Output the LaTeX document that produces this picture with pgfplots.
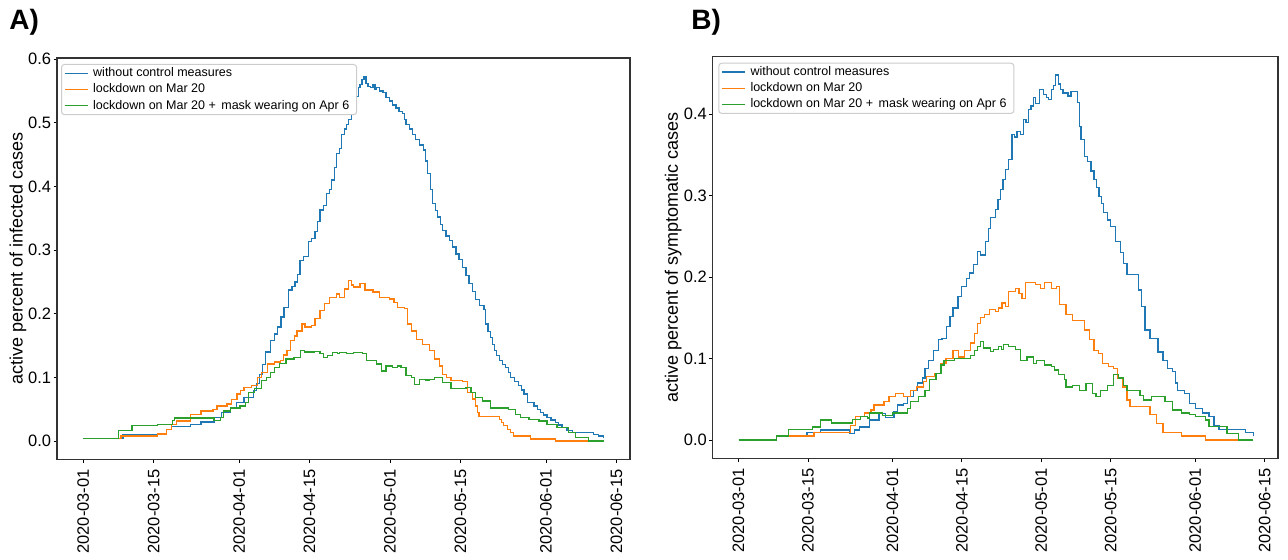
\documentclass[border=0pt]{standalone}
\usepackage{fontspec}
\setmainfont{Liberation Sans}
\usepackage{pgfplots}
\usepackage{pgfplotstable}
\pgfplotsset{compat=1.18}

\definecolor{tabblue}{HTML}{1F77B4}
\definecolor{taborange}{HTML}{FF7F0E}
\definecolor{tabgreen}{HTML}{2CA02C}

% day since 2020-03-01, active fraction (percent)
\pgfplotstableread{
d v
0 0.004
7.9 0.0105
16.5 0.018
17.5 0.0226
21.4 0.026
23.4 0.03
26.0 0.037
27.5 0.045
29.3 0.052
30.5 0.06
32.0 0.068
33.9 0.079
34.5 0.09
35.0 0.105
35.6 0.12
36.3 0.14
37.2 0.158
38.0 0.168
38.6 0.179
39.3 0.195
39.9 0.21
40.8 0.237
41.5 0.243
42.1 0.25
42.6 0.262
43.1 0.284
43.8 0.29
44.8 0.313
45.4 0.318
46.1 0.329
46.6 0.345
47.1 0.363
47.8 0.37
48.4 0.389
49.0 0.395
49.4 0.41
49.9 0.43
50.4 0.452
50.9 0.46
51.4 0.481
51.9 0.49
52.3 0.497
52.8 0.505
53.3 0.515
53.8 0.525
54.3 0.541
54.7 0.555
55.0 0.56
55.4 0.568
55.8 0.573
56.2 0.562
56.6 0.557
57.1 0.555
57.6 0.56
58.0 0.553
58.3 0.555
58.9 0.55
59.6 0.547
60.2 0.54
60.9 0.534
61.5 0.528
62.2 0.523
62.8 0.518
63.5 0.515
63.9 0.505
64.2 0.497
64.8 0.49
65.5 0.481
66.1 0.474
66.8 0.465
67.6 0.457
68.0 0.44
68.5 0.42
69.0 0.395
69.5 0.373
70.0 0.362
70.5 0.352
71.0 0.34
71.4 0.331
72.1 0.322
72.8 0.315
73.4 0.305
74.1 0.294
74.7 0.285
75.4 0.273
76.1 0.26
76.7 0.247
77.4 0.235
78.0 0.222
78.8 0.213
79.7 0.207
80.0 0.184
80.5 0.172
81.0 0.163
81.4 0.152
81.7 0.142
82.2 0.134
82.7 0.126
83.4 0.12
84.0 0.116
84.5 0.108
85.0 0.1
85.8 0.093
86.6 0.087
87.1 0.08
87.6 0.074
88.3 0.06
89.6 0.055
90.3 0.05
90.9 0.045
91.5 0.041
92.2 0.037
93.0 0.033
93.9 0.029
94.5 0.025
95.2 0.021
96.2 0.017
97.2 0.013
101.4 0.0105
102.5 0.008
103.4 0.005
103.6 0.005
}\infBlue

\pgfplotstableread{
d v
0 0.004
7.5 0.008
14.8 0.011
16.5 0.018
17.5 0.026
18.5 0.0315
21.4 0.042
23.4 0.047
25.8 0.05
26.6 0.055
28.6 0.058
29.5 0.065
30.6 0.074
31.3 0.079
32.0 0.084
33.5 0.087
34.7 0.1
35.5 0.108
36.6 0.121
38.0 0.124
39.2 0.126
39.8 0.135
40.5 0.142
41.2 0.158
42.0 0.165
42.5 0.173
43.5 0.184
44.1 0.179
45.4 0.181
46.1 0.192
47.1 0.205
48.0 0.216
49.0 0.226
50.3 0.231
51.0 0.226
52.0 0.239
52.7 0.252
53.3 0.245
53.7 0.242
55.0 0.247
56.0 0.237
57.6 0.234
58.9 0.226
60.9 0.223
61.8 0.218
62.5 0.21
63.9 0.208
64.5 0.184
65.2 0.173
66.2 0.16
67.5 0.152
68.8 0.142
69.8 0.129
70.8 0.118
71.4 0.105
72.2 0.1
73.1 0.095
75.4 0.093
76.4 0.076
77.4 0.066
78.0 0.055
78.4 0.045
78.7 0.039
82.7 0.034
83.2 0.029
83.6 0.024
84.3 0.018
85.0 0.013
85.6 0.008
88.9 0.003
93.9 0.0
103.6 0.0
}\infOrange

\pgfplotstableread{
d v
0 0.004
7.0 0.016
9.7 0.024
14.8 0.026
17.7 0.032
18.2 0.036
26.0 0.032
27.3 0.037
27.9 0.047
29.3 0.052
31.2 0.055
32.2 0.06
32.8 0.076
34.1 0.082
35.4 0.095
36.4 0.1
37.2 0.108
38.0 0.116
39.0 0.122
40.3 0.129
41.9 0.131
43.2 0.142
44.0 0.14
46.0 0.141
47.1 0.137
47.8 0.131
48.5 0.134
49.5 0.139
50.5 0.137
51.0 0.139
52.3 0.137
53.7 0.139
55.5 0.137
56.3 0.126
58.3 0.121
59.3 0.11
60.2 0.118
61.5 0.116
62.5 0.118
63.2 0.116
64.2 0.103
65.2 0.1
65.9 0.089
66.8 0.097
68.0 0.096
68.8 0.097
69.8 0.1
71.4 0.092
73.1 0.082
76.1 0.084
77.1 0.076
78.0 0.068
79.4 0.063
81.0 0.052
84.6 0.05
86.0 0.042
87.0 0.037
88.6 0.034
90.6 0.0315
92.2 0.026
94.2 0.021
96.5 0.013
97.8 0.005
100.5 0.0
103.6 0.0
}\infGreen

\pgfplotstableread{
d v
0 0.0
7.6 0.0048
13.8 0.0089
16.5 0.0122
22.3 0.0081
23.3 0.0122
24.4 0.016
26.4 0.0245
28.3 0.0327
29.6 0.028
31.3 0.0347
32.0 0.043
33.3 0.045
34.0 0.053
35.3 0.061
36.0 0.07
37.0 0.076
37.6 0.088
38.3 0.098
39.3 0.11
40.3 0.123
41.0 0.125
41.9 0.139
42.6 0.152
43.2 0.162
44.2 0.176
44.9 0.188
45.9 0.198
46.6 0.205
47.3 0.215
48.2 0.231
48.8 0.227
49.7 0.244
50.3 0.26
50.8 0.273
51.8 0.283
52.3 0.295
52.8 0.307
53.3 0.32
53.8 0.332
54.4 0.344
55.1 0.375
55.6 0.372
56.1 0.379
56.8 0.375
57.4 0.393
57.9 0.39
58.4 0.406
58.9 0.41
59.4 0.42
59.9 0.413
60.7 0.43
61.4 0.424
62.0 0.42
62.4 0.418
63.0 0.43
63.4 0.435
63.8 0.448
64.4 0.437
64.9 0.43
65.4 0.426
66.4 0.422
67.0 0.428
67.7 0.428
68.3 0.414
68.7 0.385
69.0 0.369
69.7 0.348
70.3 0.342
71.0 0.33
71.6 0.32
72.1 0.31
72.6 0.299
73.1 0.29
73.6 0.279
74.3 0.27
75.0 0.262
75.9 0.244
76.9 0.23
77.6 0.217
78.3 0.203
79.9 0.203
80.6 0.184
81.2 0.164
81.9 0.135
82.9 0.125
83.9 0.125
84.5 0.108
85.5 0.098
86.5 0.088
87.5 0.084
88.0 0.07
88.5 0.061
89.8 0.057
90.8 0.045
92.1 0.039
93.5 0.033
94.8 0.029
95.8 0.018
96.8 0.013
102.1 0.009
103.7 0.005
}\symBlue

\pgfplotstableread{
d v
0 0.0
7.6 0.005
15.2 0.009
22.6 0.018
23.6 0.0286
25.4 0.033
26.7 0.037
27.3 0.043
29.3 0.047
30.3 0.053
31.6 0.057
33.3 0.053
34.6 0.061
35.9 0.065
37.2 0.072
37.9 0.078
39.5 0.082
40.8 0.094
41.8 0.1
43.2 0.11
44.3 0.102
45.5 0.11
46.8 0.119
47.5 0.131
48.1 0.143
48.8 0.15
49.6 0.154
50.5 0.16
51.8 0.158
52.4 0.162
53.1 0.168
53.8 0.164
54.4 0.182
55.8 0.186
56.5 0.18
57.1 0.174
57.8 0.193
59.8 0.191
60.8 0.186
61.7 0.193
63.1 0.186
64.1 0.188
64.7 0.166
66.0 0.154
67.3 0.147
68.7 0.147
69.7 0.135
70.7 0.123
71.6 0.11
72.5 0.106
73.3 0.094
74.6 0.09
75.6 0.088
76.3 0.076
77.3 0.065
78.3 0.049
78.9 0.041
82.2 0.041
82.9 0.031
84.2 0.02
85.5 0.009
89.2 0.005
94.1 0.0
103.7 0.0
}\symOrange

\pgfplotstableread{
d v
0 0.0
7.6 0.005
10.1 0.013
14.9 0.016
16.5 0.0245
18.8 0.021
22.9 0.025
24.6 0.0286
26.0 0.027
26.4 0.033
29.0 0.03
31.0 0.033
34.0 0.039
34.6 0.047
36.2 0.053
37.6 0.061
38.5 0.074
39.8 0.082
40.8 0.092
41.4 0.098
43.5 0.1
46.8 0.104
47.5 0.11
48.1 0.115
48.8 0.121
49.4 0.113
50.7 0.109
51.4 0.111
52.4 0.115
53.0 0.111
53.4 0.117
54.4 0.115
55.8 0.111
56.8 0.098
58.1 0.102
59.4 0.094
60.0 0.098
61.7 0.092
63.1 0.09
63.7 0.086
64.4 0.08
65.7 0.074
66.0 0.065
67.3 0.067
68.7 0.061
70.0 0.069
71.3 0.057
72.0 0.053
73.0 0.061
74.3 0.067
75.6 0.08
76.6 0.076
77.6 0.067
78.3 0.061
80.9 0.055
81.6 0.049
83.2 0.053
85.9 0.047
87.5 0.037
89.2 0.033
90.8 0.031
92.1 0.0286
94.1 0.0245
94.8 0.017
98.4 0.008
100.8 0.0
103.7 0.0
}\symGreen

\pgfplotsset{
  panel/.style={
    scale only axis,
    anchor=south west,
    xmin=-5.2, xmax=108.7,
    xtick={0,14,31,45,61,75,92,106},
    xticklabels={2020-03-01,2020-03-15,2020-04-01,2020-04-15,2020-05-01,2020-05-15,2020-06-01,2020-06-15},
    xtick pos=bottom, ytick pos=left,
    tick align=outside,
    major tick length=1.75pt,
    tick style={black, line width=0.4pt},
    axis line style={black!80, line width=0.6pt},
    /pgf/number format/assume math mode=true,
    /pgf/number format/fixed, /pgf/number format/fixed zerofill,
    /pgf/number format/precision=1,
    xticklabel style={rotate=90, anchor=east, inner xsep=3pt, inner ysep=0pt,
      font=\fontsize{8.25}{9}\selectfont},
    yticklabel style={anchor=east, inner xsep=1pt, inner ysep=0pt,
      font=\fontsize{8.25}{9}\selectfont},
    ylabel style={anchor=center, font=\fontsize{9}{10}\selectfont},
    every axis plot/.append style={const plot mark left, line width=0.65pt, no markers},
    legend cell align=left,
    legend image code/.code={\draw[#1] (0pt,0pt) -- (11.5pt,0pt);},
    legend style={anchor=north west, draw=black!20, rounded corners=1.5pt,
      fill=white, line width=0.5pt,
      inner xsep=1.5pt, inner ysep=0.5pt, row sep=0.2pt,
      font=\fontsize{6.25}{7.5}\selectfont,
      nodes={inner xsep=2.2pt, inner ysep=1pt, text height=4.6pt, text depth=1.3pt}},
  }
}

\begin{document}
\begin{tikzpicture}
\useasboundingbox (0,0) rectangle (644pt,280pt);

\begin{axis}[panel,
  at={(28.5pt,50.35pt)}, width=286.5pt, height=200.65pt,
  ymin=-0.0287, ymax=0.6017,
  ytick={0,0.1,0.2,0.3,0.4,0.5,0.6},
  ylabel={active percent of infected cases},
  ylabel style={at={(axis description cs:-0.068,0.5)}},
  legend style={at={(axis description cs:0.007,0.985)}},
]
\addplot[tabblue] table[x=d, y=v] {\infBlue};
\addlegendentry{without control measures}
\addplot[taborange] table[x=d, y=v] {\infOrange};
\addlegendentry{lockdown on Mar 20}
\addplot[tabgreen] table[x=d, y=v] {\infGreen};
\addlegendentry{lockdown on Mar 20 +\, mask wearing on Apr 6}
\end{axis}

\begin{axis}[panel,
  at={(356.35pt,50.85pt)}, width=282.65pt, height=200.8pt,
  ymin=-0.0224, ymax=0.4704,
  ytick={0,0.1,0.2,0.3,0.4},
  ylabel={active percent of symptomatic cases},
  ylabel style={at={(axis description cs:-0.070,0.5)}},
  legend style={at={(axis description cs:0.0099,0.985)}},
]
\addplot[tabblue] table[x=d, y=v] {\symBlue};
\addlegendentry{without control measures}
\addplot[taborange] table[x=d, y=v] {\symOrange};
\addlegendentry{lockdown on Mar 20}
\addplot[tabgreen] table[x=d, y=v] {\symGreen};
\addlegendentry{lockdown on Mar 20 +\, mask wearing on Apr 6}
\end{axis}

\node[anchor=base west, inner sep=0pt, font=\bfseries\fontsize{14}{14}\selectfont] at (4.5pt,265pt) {A)};
\node[anchor=base west, inner sep=0pt, font=\bfseries\fontsize{14}{14}\selectfont] at (345.5pt,265pt) {B)};
\end{tikzpicture}
\end{document}
